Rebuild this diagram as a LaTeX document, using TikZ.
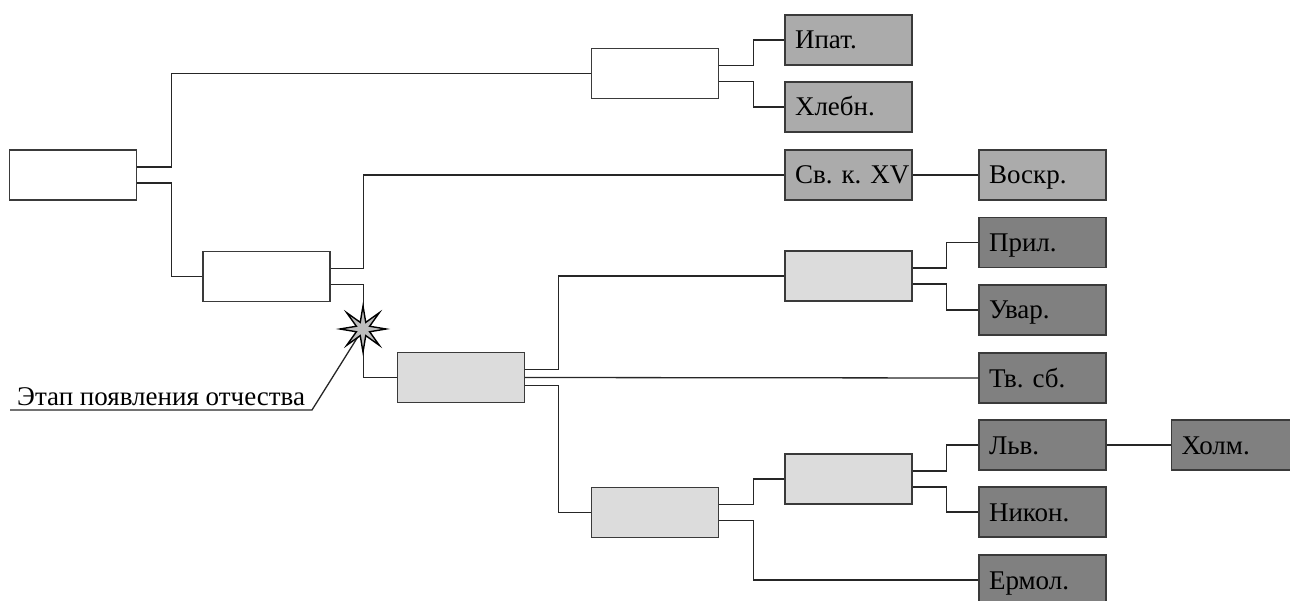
\documentclass[tikz,border=0pt]{standalone}
\usepackage{fontspec}
\setmainfont{Liberation Serif}
\usetikzlibrary{calc,shapes.geometric}
\definecolor{edgec}{HTML}{3A3A3A}
\definecolor{lightg}{HTML}{DCDCDC}
\definecolor{midg}{HTML}{ABABAB}
\definecolor{darkg}{HTML}{808080}
\definecolor{starg}{HTML}{BDBDBD}
\tikzset{
  x=1pt, y=-1pt,
  box/.style={draw=edgec, line width=1.3pt, rectangle, minimum width=127pt, minimum height=50pt,
    inner xsep=10pt, inner ysep=0pt,
    text height=18pt, text depth=0pt, font=\fontsize{27}{30}\selectfont,
    execute at begin node={\hbox to 107pt\bgroup}, execute at end node={\hss\egroup}},
  wbox/.style={box, fill=white},
  lbox/.style={box, fill=lightg},
  mbox/.style={box, fill=midg},
  dbox/.style={box, fill=darkg},
  conn/.style={draw=black!85, line width=1.3pt},
}
\begin{document}
\begin{tikzpicture}
\useasboundingbox (0,0) rectangle (1290,601);
% nodes
\node[wbox] (R) at (73,175) {};
\node[wbox] (A) at (655,73.5) {};
\node[mbox] (ip) at (848.5,40) {Ипат.};
\node[mbox] (hl) at (848.5,107) {Хлебн.};
\node[wbox] (B) at (266.5,276.5) {};
\node[mbox] (sv) at (848.5,175) {Св. к. XV};
\node[mbox] (vo) at (1042.5,175) {Воскр.};
\node[lbox] (C) at (461,377.5) {};
\node[lbox] (D) at (848.5,276) {};
\node[dbox] (pr) at (1042.5,242.5) {Прил.};
\node[dbox] (uv) at (1042.5,310) {Увар.};
\node[dbox] (tv) at (1042.5,378) {Тв. сб.};
\node[lbox] (E) at (655,512.5) {};
\node[lbox] (F) at (848.5,479) {};
\node[dbox] (lv) at (1042.5,445) {Льв.};
\node[dbox] (ni) at (1042.5,512) {Никон.};
\node[dbox] (er) at (1042.5,580) {Ермол.};
\node[dbox] (ho) at (1235,445) {Холм.};
% connectors
\draw[conn] ($(R.east)+(0,-8)$) -- ++(34,0) |- (A.west);
\draw[conn] ($(R.east)+(0,8)$) -- ++(34,0) |- (B.west);
\draw[conn] ($(A.east)+(0,-8)$) -- ++(34,0) |- (ip.west);
\draw[conn] ($(A.east)+(0,8)$) -- ++(34,0) |- (hl.west);
\draw[conn] ($(B.east)+(0,-8)$) -- ++(33,0) |- (sv.west);
\draw[conn] ($(B.east)+(0,8)$) -- ++(33,0) |- (C.west);
\draw[conn] (sv.east) -- (vo.west);
\draw[conn] ($(C.east)+(0,-8)$) -- ++(33,0) |- (D.west);
\draw[conn] (C.east) -- (tv.west);
\draw[conn] ($(C.east)+(0,8)$) -- ++(33,0) |- (E.west);
\draw[conn] ($(D.east)+(0,-8)$) -- ++(34,0) |- (pr.west);
\draw[conn] ($(D.east)+(0,8)$) -- ++(34,0) |- (uv.west);
\draw[conn] ($(E.east)+(0,-8)$) -- ++(34,0) |- (F.west);
\draw[conn] ($(E.east)+(0,8)$) -- ++(34,0) |- (er.west);
\draw[conn] ($(F.east)+(0,-8)$) -- ++(34,0) |- (lv.west);
\draw[conn] ($(F.east)+(0,8)$) -- ++(34,0) |- (ni.west);
\draw[conn] (lv.east) -- (ho.west);
% label and star
\node[anchor=base west, inner sep=0pt, font=\fontsize{27}{30}\selectfont] (lbl) at (17,405) {Этап появления отчества};
\coordinate (ul0) at (10,410);
\coordinate (ul1) at (312,410);
\coordinate (stc) at (363,329);
\draw[conn] (ul0) -- (ul1) -- ($(stc)+(-4,6)$);
\node[star, star points=8, star point ratio=3.2, minimum size=46pt, inner sep=0pt,
      draw=black, line width=1.4pt, fill=starg] (st) at (stc) {};
\end{tikzpicture}
\end{document}
